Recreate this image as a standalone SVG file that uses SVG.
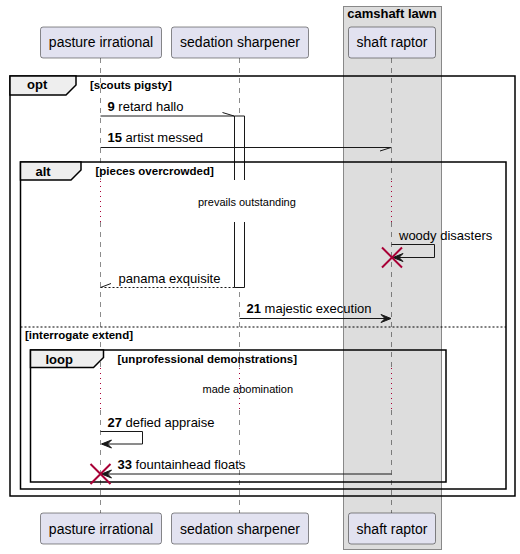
<svg xmlns="http://www.w3.org/2000/svg" width="520" height="554" viewBox="0 0 520 554">
  <style>
    text { font-family: "Liberation Sans", Arial, sans-serif; fill: #000000; }
    .pname { font-size: 14px; text-anchor: middle; }
    .msg { font-size: 13px; }
    .num { font-weight: bold; }
    .ftitle { font-size: 13px; font-weight: bold; }
    .fcond { font-size: 11.5px; font-weight: bold; }
    .delay { font-size: 11px; }
    .part { fill: #E2E2F0; stroke: #181818; stroke-width: 0.5; }
    .life { stroke: #181818; stroke-width: 0.5; stroke-dasharray: 5,5; fill: none; }
    .dots { stroke: #A80036; stroke-width: 1; stroke-dasharray: 1,4; fill: none; }
    .frame { fill: none; stroke: #000000; stroke-width: 1.5; }
    .tab { fill: #EEEEEE; stroke: #000000; stroke-width: 1.5; }
    .line { stroke: #181818; stroke-width: 1; fill: none; }
    .ret { stroke: #181818; stroke-width: 1; stroke-dasharray: 2,2; fill: none; }
    .head { fill: #181818; stroke: #181818; stroke-width: 1; }
    .kill { stroke: #A80036; stroke-width: 2; }
  </style>

  <!-- participant box -->
  <g id="camshaft-lawn">
    <rect x="343.5" y="6.5" width="98" height="543" fill="#DDDDDD" stroke="#888888" stroke-width="1"/>
    <text class="ftitle" x="392" y="18" text-anchor="middle">camshaft lawn</text>
  </g>

  <!-- lifelines -->
  <g id="lifelines">
    <path class="life" d="M100.5,58 V180 M100.5,222 V367 M100.5,410 V513"/>
    <path class="dots" d="M100.5,181 V222 M100.5,368 V410"/>
    <path class="life" d="M239.5,58 V180 M239.5,222 V367 M239.5,410 V513"/>
    <path class="dots" d="M239.5,181 V222 M239.5,368 V410"/>
    <path class="life" d="M391.5,58 V180 M391.5,222 V367 M391.5,410 V513"/>
    <path class="dots" d="M391.5,181 V222 M391.5,368 V410"/>
  </g>

  <g id="pasture-irrational">
    <rect class="part" x="40.5" y="27" width="121" height="31" rx="2.5"/>
    <text class="pname" x="101" y="47">pasture irrational</text>
    <rect class="part" x="40.5" y="513" width="121" height="31" rx="2.5"/>
    <text class="pname" x="101" y="534">pasture irrational</text>
  </g>
  <g id="sedation-sharpener">
    <rect class="part" x="171.5" y="27" width="137" height="31" rx="2.5"/>
    <text class="pname" x="240" y="47">sedation sharpener</text>
    <rect class="part" x="171.5" y="513" width="137" height="31" rx="2.5"/>
    <text class="pname" x="240" y="534">sedation sharpener</text>
  </g>
  <g id="shaft-raptor">
    <rect class="part" x="348.5" y="27" width="87" height="31" rx="2.5"/>
    <text class="pname" x="392" y="47">shaft raptor</text>
    <rect class="part" x="348.5" y="513" width="87" height="31" rx="2.5"/>
    <text class="pname" x="392" y="534">shaft raptor</text>
  </g>

  <!-- activation of sedation sharpener, interrupted by the delay -->
  <g id="activation">
    <rect x="234.5" y="116" width="10" height="171.5" fill="#FFFFFF" stroke="none"/>
    <rect x="234.5" y="180" width="10" height="42" fill="#FFFFFF" stroke="none"/>
    <path class="line" d="M234.5,180 V116 H244.5 V180 M234.5,222 V287.5 H244.5 V222"/>
  </g>

  <!-- combined fragments -->
  <g id="frame-opt">
    <rect class="frame" x="10" y="76" width="505" height="420"/>
    <path class="tab" d="M10,76 H76 V85 L66,95 H10 Z"/>
    <text class="ftitle" x="27" y="89">opt</text>
    <text class="fcond" x="90" y="89">[scouts pigsty]</text>
  </g>
  <g id="frame-alt">
    <rect class="frame" x="20.5" y="162" width="485.5" height="327"/>
    <path class="tab" d="M20.5,162 H81 V170 L71,180 H20.5 Z"/>
    <text class="ftitle" x="35.5" y="175.5">alt</text>
    <text class="fcond" x="95.5" y="174.5">[pieces overcrowded]</text>
    <line x1="20.5" y1="327" x2="506" y2="327" stroke="#000000" stroke-width="1" stroke-dasharray="2,2"/>
    <text class="fcond" x="25" y="338.5">[interrogate extend]</text>
  </g>
  <g id="frame-loop">
    <rect class="frame" x="30.5" y="350" width="415.5" height="132"/>
    <path class="tab" d="M30.5,350 H103.5 V357.5 L93.5,367.5 H30.5 Z"/>
    <text class="ftitle" x="45.5" y="363.5">loop</text>
    <text class="fcond" x="117.5" y="362.5">[unprofessional demonstrations]</text>
  </g>

  <!-- delays -->
  <g id="delay-1">
    <text class="delay" x="198" y="205.5">prevails outstanding</text>
  </g>
  <g id="delay-2">
    <text class="delay" x="202.5" y="392.5">made abomination</text>
  </g>

  <!-- messages -->
  <g id="connectors">
    <g id="msg-9">
      <line class="line" x1="100.5" y1="116" x2="234.5" y2="116"/>
      <line class="line" x1="222.5" y1="112.5" x2="234" y2="116"/>
      <text class="msg" x="107.5" y="111"><tspan class="num">9</tspan> retard hallo</text>
    </g>
    <g id="msg-15">
      <line class="line" x1="100.5" y1="147.5" x2="391.5" y2="147.5"/>
      <line class="line" x1="380" y1="151" x2="391" y2="147.5"/>
      <text class="msg" x="107.5" y="142"><tspan class="num">15</tspan> artist messed</text>
    </g>
    <g id="msg-woody">
      <path class="line" d="M391.5,244.5 H434.5 V257.5 H393"/>
      <polygon class="head" points="393,257.5 403,253.5 399,257.5 403,261.5"/>
      <text class="msg" x="399" y="239.5">woody disasters</text>
    </g>
    <g id="msg-panama">
      <line class="ret" x1="234.5" y1="287.5" x2="100.5" y2="287.5"/>
      <line class="line" x1="100.5" y1="287.5" x2="111" y2="283.5"/>
      <text class="msg" x="118.5" y="282.5">panama exquisite</text>
    </g>
    <g id="msg-21">
      <line class="line" x1="239.5" y1="318.5" x2="390" y2="318.5"/>
      <polygon class="head" points="391,318.5 381,314.5 385,318.5 381,322.5"/>
      <text class="msg" x="246.5" y="313"><tspan class="num">21</tspan> majestic execution</text>
    </g>
    <g id="msg-27">
      <path class="line" d="M100.5,431.5 H142.5 V444 H102"/>
      <polygon class="head" points="101.5,444 111.5,440 107.5,444 111.5,448"/>
      <text class="msg" x="107.5" y="426.5"><tspan class="num">27</tspan> defied appraise</text>
    </g>
    <g id="msg-33">
      <line class="line" x1="391.5" y1="474" x2="102" y2="474"/>
      <polygon class="head" points="101.5,474 111.5,470 107.5,474 111.5,478"/>
      <text class="msg" x="117.5" y="469"><tspan class="num">33</tspan> fountainhead floats</text>
    </g>
  </g>

  <!-- destruction marks -->
  <g id="destroy-shaft-raptor">
    <path class="kill" d="M382,247.5 L402,267.5 M402,247.5 L382,267.5"/>
  </g>
  <g id="destroy-pasture-irrational">
    <path class="kill" d="M90.5,464 L110.5,484 M110.5,464 L90.5,484"/>
  </g>
</svg>
